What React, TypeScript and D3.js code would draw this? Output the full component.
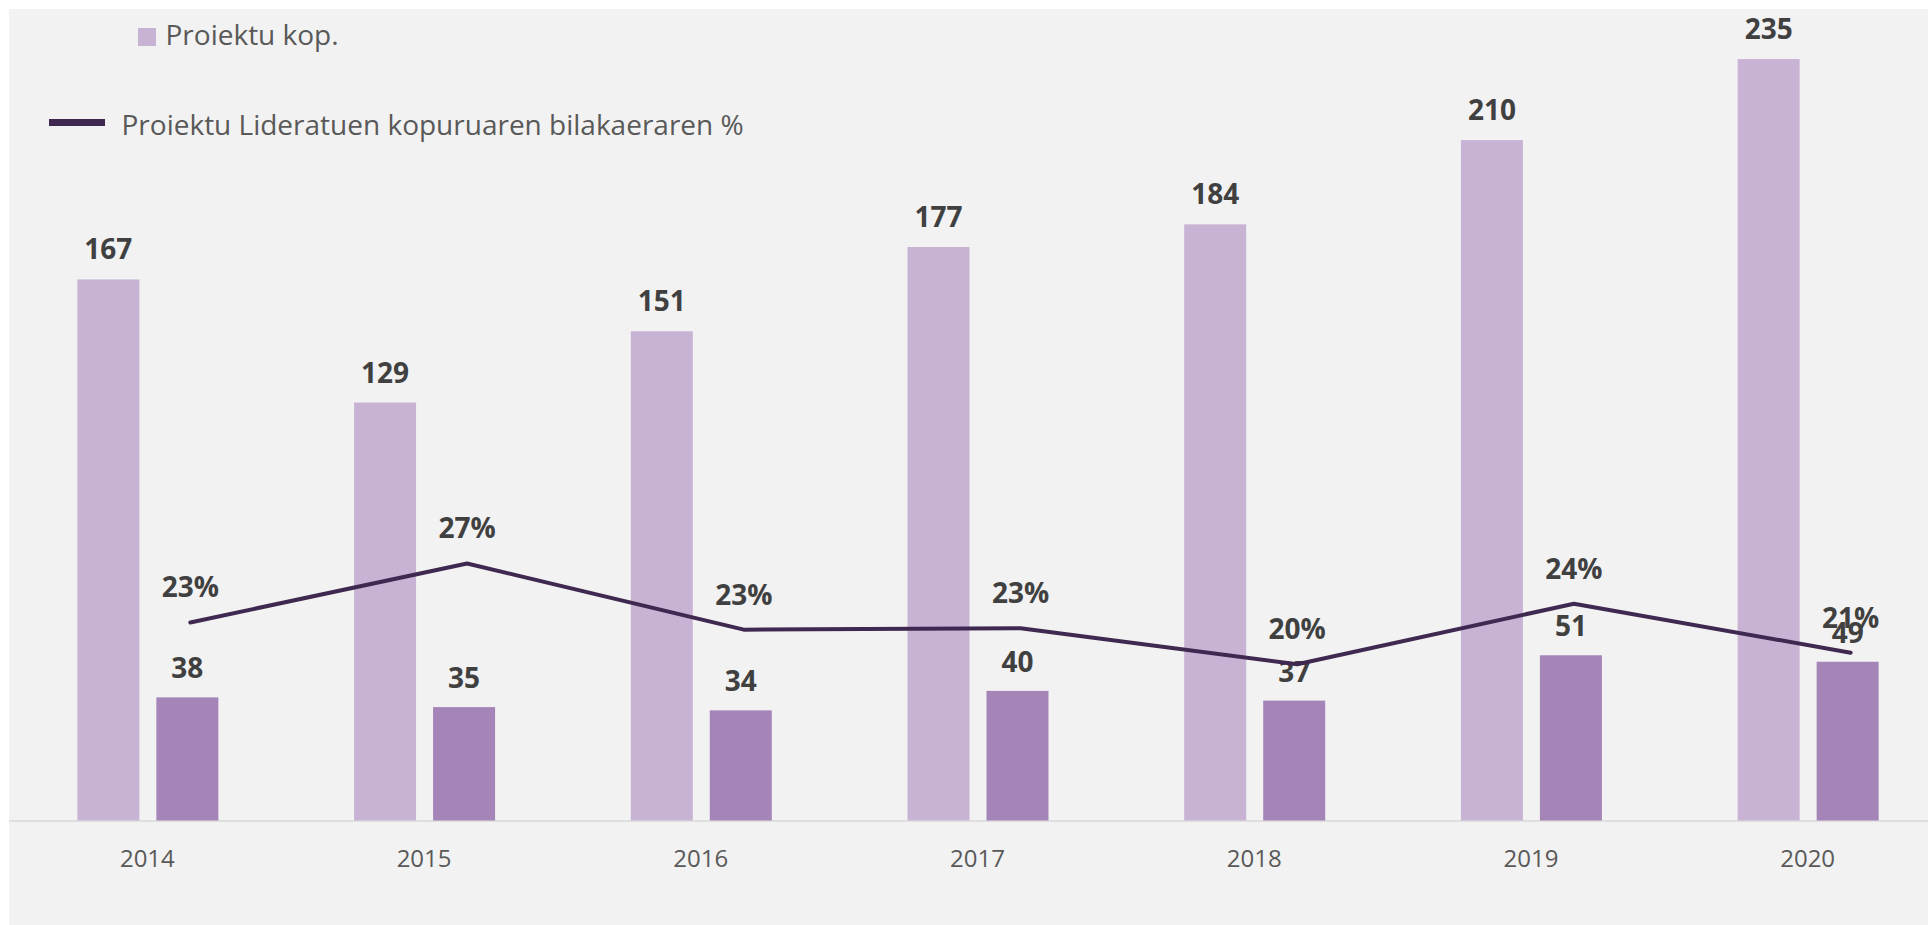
import React from "react";
import * as d3 from "d3";

const years = ["2014", "2015", "2016", "2017", "2018", "2019", "2020"];
const projectCounts = [167, 129, 151, 177, 184, 210, 235];
const ledCounts = [38, 35, 34, 40, 37, 51, 49];
const ledPercent = [23.0, 27.1, 22.5, 22.6, 20.1, 24.3, 20.9];
const legendBars = "Proiektu kop.";
const legendLine = "Proiektu Lideratuen kopuruaren bilakaeraren %";

const W = 1928;
const H = 925;
const FONT = "'Open Sans', 'Noto Sans', sans-serif";
const LIGHT = "#c9b3d4";
const DARK = "#a584b8";
const LINE = "#3f2950";

export default function App() {
  const x = d3.scaleBand<string>().domain(years).range([9, 1946]).padding(0);
  const y = d3.scaleLinear().domain([0, 250]).range([820.5, 10.5]);
  const yp = d3.scaleLinear().domain([9.24, 65.52]).range([820.5, 10.5]);
  const bw = 62;
  const center = (yr: string) => (x(yr) as number) + x.bandwidth() / 2;
  const lineOffset = 43;

  const linePath = d3
    .line<number>()
    .x((_, i) => center(years[i]) + lineOffset)
    .y((d) => yp(d))(ledPercent) as string;

  return (
    <svg
      width={W}
      height={H}
      style={{ position: "absolute", left: 0, top: 0, display: "block" }}
    >
      <rect x={0} y={0} width={W} height={H} fill="#ffffff" />
      <rect x={9} y={9} width={W - 9} height={H - 9} fill="#f2f2f2" />

      {/* baseline */}
      <line x1={9} x2={W} y1={821} y2={821} stroke="#d9d9d9" strokeWidth={1.5} />

      {/* bars */}
      {years.map((yr, i) => (
        <g key={"b" + yr}>
          <rect
            x={center(yr) - 70}
            y={y(projectCounts[i])}
            width={bw}
            height={y(0) - y(projectCounts[i])}
            fill={LIGHT}
          />
          <rect
            x={center(yr) + 9}
            y={y(ledCounts[i])}
            width={bw}
            height={y(0) - y(ledCounts[i])}
            fill={DARK}
          />
        </g>
      ))}

      {/* bar labels */}
      {years.map((yr, i) => (
        <g key={"l" + yr} fontFamily={FONT} fontWeight={700} fontSize={28} fill="#404040" textAnchor="middle">
          <text x={center(yr) - 70 + bw / 2} y={y(projectCounts[i]) - 20}>
            {projectCounts[i]}
          </text>
          <text x={center(yr) + 9 + bw / 2} y={y(ledCounts[i]) - 19}>
            {ledCounts[i]}
          </text>
        </g>
      ))}

      {/* line */}
      <path d={linePath} fill="none" stroke={LINE} strokeWidth={4} strokeLinejoin="round" strokeLinecap="round" />

      {/* line labels */}
      {years.map((yr, i) => (
        <text
          key={"p" + yr}
          x={center(yr) + lineOffset}
          y={yp(ledPercent[i]) - 25}
          fontFamily={FONT}
          fontWeight={700}
          fontSize={28}
          fill="#404040"
          textAnchor="middle"
        >
          {Math.round(ledPercent[i]) + "%"}
        </text>
      ))}

      {/* x axis labels */}
      {years.map((yr) => (
        <text
          key={"x" + yr}
          x={center(yr)}
          y={866.5}
          fontFamily={FONT}
          fontSize={24}
          fill="#595959"
          textAnchor="middle"
        >
          {yr}
        </text>
      ))}

      {/* legend */}
      <rect x={138} y={28} width={18} height={18} fill={LIGHT} />
      <text x={165.5} y={45} fontFamily={FONT} fontSize={28} fill="#595959">
        {legendBars}
      </text>
      <rect x={49} y={119} width={56} height={7} fill={LINE} />
      <text x={121.5} y={135} fontFamily={FONT} fontSize={28} fill="#595959">
        {legendLine}
      </text>
    </svg>
  );
}
